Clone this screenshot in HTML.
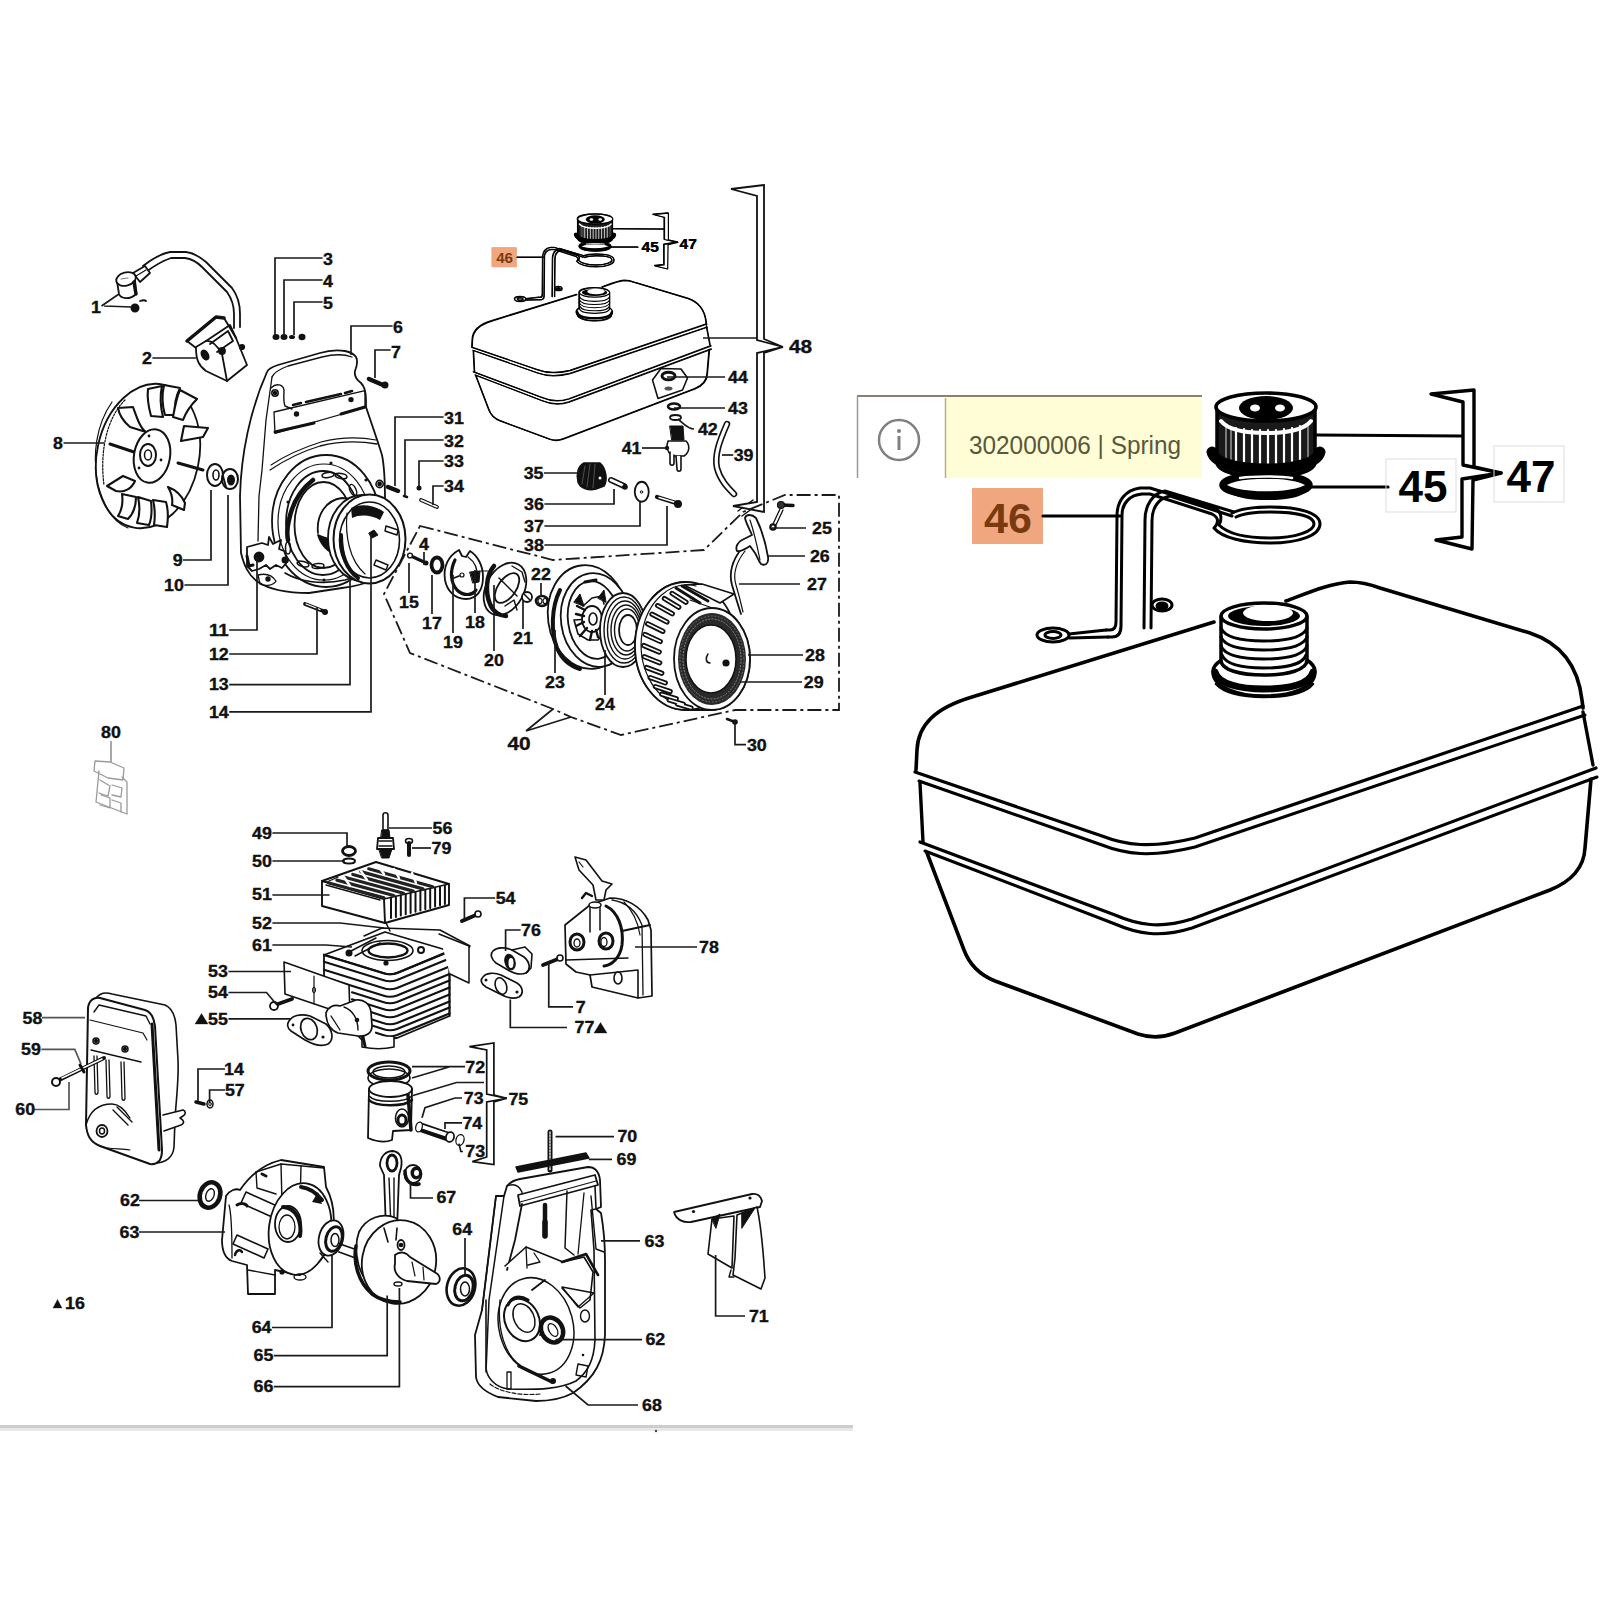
<!DOCTYPE html>
<html><head><meta charset="utf-8"><style>
html,body{margin:0;padding:0;background:#fff;width:1600px;height:1600px;overflow:hidden}
svg{display:block}
text{font-family:"Liberation Sans",sans-serif}
</style></head><body>
<svg width="1600" height="1600" viewBox="0 0 1600 1600">
<rect width="1600" height="1600" fill="#fff"/>
<defs>
<g id="tankL" fill="none" stroke="#000" stroke-linecap="round" stroke-linejoin="round">
  <!-- top surface outline -->
  <path stroke-width="3.6" d="M916,770 L917,750 C918,725 935,708 972,697 L1214,622"/>
  <path stroke-width="3.6" d="M1286,601 C1310,592 1328,584 1350,582 C1362,582 1372,585 1380,588 L1530,633 C1560,643 1578,665 1582,700 L1583,708"/>
  <!-- seam 1 (double) -->
  <path stroke-width="3.2" d="M915,772 L1102,836 C1125,845 1150,849 1195,838 L1583,706"/>
  <path stroke-width="3" d="M919,781 L1102,845 C1125,854 1150,858 1195,847 L1585,715"/>
  <!-- side between seams -->
  <path stroke-width="3.4" d="M920,783 L923,842"/>
  <path stroke-width="3.4" d="M1583,712 L1593,765"/>
  <!-- seam 2 (double) -->
  <path stroke-width="3.2" d="M920,842 L1115,915 C1138,925 1160,929 1192,919 L1596,768"/>
  <path stroke-width="3" d="M925,851 L1115,924 C1138,934 1160,938 1192,928 L1597,777"/>
  <!-- lower body -->
  <path stroke-width="3.6" d="M927,853 L964,950 C970,966 980,975 995,981 L1138,1034 C1150,1038 1162,1038 1175,1033 L1550,890 C1572,881 1584,868 1585,848 L1591,779"/>
  <!-- neck -->
  <g>
    <path stroke-width="3.5" fill="#fff" d="M1213,672 C1213,688 1240,696 1264,696 C1290,696 1315,688 1315,672 C1315,658 1290,652 1264,652 C1240,652 1213,658 1213,672 Z"/>
    <path stroke-width="7" d="M1215,672 C1218,684 1240,689 1264,689 C1290,689 1310,684 1313,672"/>
    <path stroke-width="2.5" d="M1216,684 C1225,694 1245,697 1264,697 C1285,697 1305,694 1313,684"/>
    <path stroke-width="3.5" fill="#fff" d="M1221,617 L1221,660 C1221,670 1240,675 1264,675 C1288,675 1307,670 1307,660 L1307,617"/>
    <path stroke-width="3" d="M1221,628 C1225,638 1245,641 1264,641 C1283,641 1303,638 1307,628"/>
    <path stroke-width="3" d="M1221,637 C1225,647 1245,650 1264,650 C1283,650 1303,647 1307,637"/>
    <path stroke-width="3" d="M1221,646 C1225,656 1245,659 1264,659 C1283,659 1303,656 1307,646"/>
    <path stroke-width="3" d="M1222,655 C1226,665 1245,668 1264,668 C1283,668 1303,665 1306,655"/>
    <ellipse cx="1264" cy="616" rx="43" ry="13" fill="#fff" stroke-width="3.5"/>
    <ellipse cx="1264" cy="616" rx="36" ry="10" fill="#000" stroke="none"/>
    <ellipse cx="1268" cy="613" rx="25" ry="8" fill="#fff" stroke="none"/>
  </g>
  <!-- cap -->
  <g>
    <path stroke-width="3.5" fill="#1a1a1a" d="M1217,410 L1217,462 C1217,472 1240,477 1266,477 C1292,477 1315,472 1315,462 L1315,410"/>
    <g stroke="#fff" stroke-width="2.2">
      <path d="M1236,428 V466 M1244,429 V468 M1252,430 V469 M1260,430 V470 M1268,430 V470 M1276,430 V470 M1284,429 V469 M1292,428 V468 M1300,426 V466"/>
    </g>
    <g stroke="#bbb" stroke-width="1.2">
      <path d="M1226,425 V462 M1308,425 V462 M1231,427 V464"/>
    </g>
    <path stroke-width="4" stroke="#fff" d="M1221,421 C1228,430 1245,433 1266,433 C1287,433 1304,430 1311,421"/>
    <path stroke-width="11" d="M1212,452 C1215,464 1240,469 1266,469 C1292,469 1317,464 1320,452"/>
    <ellipse cx="1266" cy="407" rx="50" ry="14" fill="#fff" stroke-width="3.6"/>
    <ellipse cx="1266" cy="408" rx="27" ry="12" fill="#000" stroke="none"/>
    <ellipse cx="1255" cy="408" rx="5" ry="3.5" fill="#fff" stroke="none"/>
    <ellipse cx="1280" cy="408" rx="5" ry="3.5" fill="#fff" stroke="none"/>
    <path d="M1230,476 C1245,482 1288,482 1302,476" stroke-width="2" stroke="#fff"/>
  </g>
  <!-- gasket 45 -->
  <ellipse cx="1266" cy="485" rx="43" ry="10" stroke-width="7.5"/>
  <path stroke-width="2.5" stroke="#fff" d="M1240,478 C1255,476 1280,476 1292,478"/>
  <path stroke-width="4" d="M1232,492 C1245,500 1290,500 1302,492"/>
  <!-- spring 46 (wire double line) -->
  <g stroke-width="3">
    <path d="M1108,637 L1112,637 C1118,637 1121,633 1121,626 L1122,515 C1122,503 1130,495 1142,494 L1150,494 L1212,514 C1220,518 1218,524 1214,528 C1222,538 1245,543 1270,543 C1300,543 1320,535 1320,524 C1320,513 1300,507 1270,507 C1250,507 1238,510 1232,513"/>
    <path d="M1106,630 L1110,630 C1114,630 1116,627 1116,622 L1117,516 C1117,500 1126,490 1140,488 L1150,488 L1215,508 C1222,512 1222,520 1219,525 C1228,534 1248,538 1270,538 C1296,538 1314,531 1314,524 C1314,516 1296,512 1270,512 C1252,512 1242,514 1236,517"/>
    <path d="M1144,628 L1145,520 C1145,505 1153,493 1165,491 L1234,512"/>
    <path d="M1151,628 L1152,521 C1152,507 1159,498 1170,496 L1232,516"/>
    <ellipse cx="1053" cy="635" rx="16" ry="7"/>
    <ellipse cx="1053" cy="635" rx="8" ry="3.5"/>
    <path d="M1069,634 L1106,630 M1069,638 L1108,637"/>
    <ellipse cx="1162" cy="605" rx="10" ry="6"/>
    <ellipse cx="1162" cy="606" rx="5" ry="3" fill="#000"/>
  </g>
  <!-- bracket 47 -->
  <g stroke-width="3.4" fill="#fff">
    <path d="M1431,394 L1474,390 L1474,467 L1501,473 L1463,465 L1463,402 Z"/>
    <path d="M1501,473 L1473,480 L1472,549 L1436,540 L1462,537 L1462,479 Z"/>
  </g>
  <path stroke-width="3.2" d="M1316,435 L1462,436"/>
  <path stroke-width="3.2" d="M1310,487 L1388,487"/>
  <text x="1423" y="502" font-size="44" font-weight="bold" fill="#000" stroke="none" text-anchor="middle">45</text>
  <text x="1531" y="492" font-size="44" font-weight="bold" fill="#000" stroke="none" text-anchor="middle">47</text>
  <!-- 46 highlight -->
  <rect x="972" y="488" width="71" height="56" fill="#f0a77f" stroke="none"/>
  <text x="1008" y="533" font-size="43" font-weight="bold" fill="#7a3a10" stroke="none" text-anchor="middle">46</text>
  <path stroke-width="3.2" d="M1043,516 L1120,516"/>
</g>
</defs>

<clipPath id="clipL"><rect x="857" y="388" width="743" height="700"/></clipPath>
<g clip-path="url(#clipL)"><use href="#tankL"/></g>
<!-- light gray label boxes in large view -->
<rect x="1386" y="459" width="70" height="53" fill="none" stroke="#ddd" stroke-width="1"/>
<rect x="1494" y="446" width="70" height="56" fill="none" stroke="#ddd" stroke-width="1"/>
<!-- tooltip -->
<rect x="857" y="396" width="88" height="82" fill="#fff"/>
<rect x="945" y="396" width="257" height="82" fill="#fffdd5" rx="2"/>
<line x1="857" y1="396" x2="1202" y2="396" stroke="#8a8070" stroke-width="2"/>
<line x1="857.5" y1="396" x2="857.5" y2="478" stroke="#999" stroke-width="1.5"/>
<line x1="945.5" y1="398" x2="945.5" y2="478" stroke="#b3b088" stroke-width="1.5"/>
<circle cx="899" cy="440" r="20" fill="none" stroke="#808080" stroke-width="2.5"/>
<circle cx="899" cy="431" r="2" fill="#808080"/>
<rect x="897.5" y="436" width="3" height="14" fill="#808080"/>
<text x="969" y="454" font-size="25" fill="#58583a" textLength="212" lengthAdjust="spacingAndGlyphs">302000006 | Spring</text>

<g transform="translate(471.4,347) scale(0.3515) translate(-915,-772)"><use href="#tankL"/></g>
<g transform="translate(471.9,347.4) scale(0.3515) translate(-915,-772)"><use href="#tankL"/></g>
<g fill="none" stroke="#111" stroke-linejoin="round" stroke-linecap="round">
  <path d="M661,368.5 L681,369 L687.5,378 L682.5,390 L658,398.5 L652.5,380 Z" stroke-width="1.6"/>
  <ellipse cx="668.5" cy="376" rx="6.5" ry="3.8" stroke-width="3"/>
  <ellipse cx="668.5" cy="388.5" rx="4" ry="2" fill="#555" stroke="none"/>
</g>

<g fill="none" stroke="#111" stroke-width="1.8" stroke-linecap="round" stroke-linejoin="round">
  <!-- wire -->
  <path d="M143,266 C152,259 160,254 170,252 L186,252 C194,253 200,257 206,262 L232,288 C238,296 240,304 240,314 L240,327"/>
  <path d="M146,272 C154,266 162,261 171,258 L185,258 C192,259 197,262 202,267 L227,292 C232,299 234,306 234,314 L234,328"/>
  <!-- plug cap -->
  <path d="M133,273 L145,266 L150,273 L140,282 Z" fill="#fff" stroke-width="1.8"/>
  <path d="M136,276 L146,270" stroke-width="1.2"/>
  <path d="M117,281 L119,294 C121,299 130,300 136,294 L135,279" fill="#fff"/>
  <ellipse cx="126" cy="279" rx="10" ry="6.5" transform="rotate(-15 126 279)" fill="#fff"/>
  <path d="M134,282 L136,294" stroke-width="3.5"/>
  <path d="M121,279 L128,278" stroke-width="1.2" stroke="#777"/>
  <circle cx="135" cy="308" r="3.6" fill="#111"/>
  <path d="M140,301 C143,300 145,300 146,301"/>
  <!-- coil 2 -->
  <path d="M187,341 L216,317 L224,318 L236,338 L247,365 L227,381 L206,371 C199,366 196,360 196,348 Z" fill="#fff"/>
  <path d="M187,341 L216,317 L224,318" stroke-width="3.5"/>
  <path d="M196,347 L206,341 C212,340 218,347 222,354 L227,381"/>
  <path d="M206,341 L230,325 L236,338"/>
  <path d="M210,344 L228,331 L233,341 L217,352"/>
  <ellipse cx="205" cy="355" rx="3" ry="5" fill="#111" transform="rotate(-30 205 355)"/>
  <circle cx="222" cy="351" r="3" fill="#111"/>
  <circle cx="242" cy="347" r="2.2" fill="#111"/>
  <!-- nuts 3-5 -->
  <g fill="#111" stroke="none">
    <ellipse cx="276" cy="337" rx="3.5" ry="3"/><ellipse cx="284" cy="337" rx="3.5" ry="3"/>
    <ellipse cx="292" cy="337" rx="3" ry="2"/><ellipse cx="302" cy="337" rx="3.5" ry="3.2"/>
  </g>
  <!-- flywheel -->
  <ellipse cx="148" cy="456" rx="51" ry="73" transform="rotate(12 148 456)" fill="#fff"/>
  <path d="M112,402 C96,425 92,455 98,485 C104,508 115,523 128,528" stroke-width="1.2"/>
  <path d="M125,400 C105,420 100,455 104,485" stroke-width="1.2" stroke-dasharray="2,1.5"/>
  <!-- blades -->
  <g fill="#fff" stroke-width="2.1">
    <path d="M148,389 L162,386 C160,395 160,405 163,417 L151,416 C148,405 147,397 148,389 Z"/>
    <path d="M164,385 L180,388 C176,396 174,405 175,415 L165,415 C162,405 162,394 164,385 Z"/>
    <path d="M180,390 L197,399 C191,405 186,412 183,420 L173,417 C175,406 177,396 180,390 Z"/>
    <path d="M184,426 L208,428 L203,437 L181,441 Z"/>
    <path d="M118,408 L133,407 C137,418 140,428 146,432 L130,427 C123,421 119,414 118,408 Z"/>
    <path d="M107,486 L123,476 L135,481 C132,488 125,493 116,491 Z"/>
    <path d="M168,487 C176,490 182,496 185,503 L184,510 L172,505 C173,499 171,492 168,487 Z"/>
    <path d="M153,500 L166,502 C169,512 168,520 167,527 L154,525 C155,518 155,508 153,500 Z"/>
    <path d="M138,497 L151,501 C152,510 152,518 149,525 L137,523 C140,515 140,506 138,497 Z"/>
    <path d="M122,494 L136,497 C136,506 133,514 128,519 L118,516 C122,510 123,501 122,494 Z"/>
  </g>
  <path d="M110,444 L137,453" stroke-width="3"/>
  <path d="M178,463 L203,470" stroke-width="3"/>
  <ellipse cx="152" cy="456" rx="18" ry="27" transform="rotate(10 152 456)" fill="#fff" stroke-width="2"/>
  <ellipse cx="148" cy="455" rx="8" ry="11" fill="#fff" stroke-width="2"/>
  <ellipse cx="148" cy="455" rx="3.5" ry="5" fill="#fff" stroke-width="1.5"/>
  <g fill="#111" stroke="none"><circle cx="149" cy="436" r="1.4"/><circle cx="161" cy="460" r="1.4"/><circle cx="139" cy="468" r="1.4"/></g>
  <!-- washer 9, nut 10 -->
  <ellipse cx="215" cy="475" rx="8" ry="11" fill="#fff" stroke-width="2"/>
  <ellipse cx="216" cy="475" rx="3" ry="5" stroke-width="1.6"/>
  <ellipse cx="230" cy="479" rx="8" ry="10" fill="#fff" stroke-width="2"/>
  <ellipse cx="231" cy="480" rx="4" ry="5.5" fill="#111" stroke="none"/>
  <path d="M223,476 L226,487"/>
</g>

<g fill="none" stroke="#111" stroke-width="1.8" stroke-linecap="round" stroke-linejoin="round">
  <!-- housing outer -->
  <path fill="#fff" d="M267,372 C268,369 272,367 278,365 L320,353 C330,350 338,350 345,351 C350,352 354,354 356,357 C358,361 357,366 355,371 C354,376 357,380 361,383 C364,386 366,391 366,400 L366,407 C372,425 378,442 382,455 C385,470 385,490 385,500 L386,560 C384,575 370,585 342,588 L309,593 C290,593 270,590 258,582 C248,575 244,565 241,553 L240,496 C241,455 250,410 267,372 Z"/>
  <!-- top rim inner -->
  <path d="M272,377 C274,372 280,369 288,366 L322,357 C334,354 344,354 352,357" stroke-width="1.3"/>
  <path d="M272,377 L266,420 L262,470 L259,496 L258,541" stroke-width="1.3"/>
  <!-- ear hole -->
  <circle cx="275" cy="393" r="3.2" stroke-width="1.5"/><circle cx="275" cy="393" r="1.4" fill="#111"/>
  <path d="M271,388 C276,383 283,384 284,390 C284,396 283,401 285,406 L292,409" stroke-width="1.4"/>
  <!-- strip -->
  <path d="M274,412 L365,390.6 L365,407.5 L275,433.4 Z" stroke-width="1.3"/>
  <path d="M275,432 L314,423" stroke-width="3"/>
  <path d="M341,414 L365,407" stroke-width="3"/>
  <path d="M293,405 L301,403 M306,402 L341,394 M345,393 L352,391" stroke-width="2.6"/>
  <circle cx="296.5" cy="414" r="1.8" fill="#111"/><circle cx="351" cy="399.6" r="1.8" fill="#111"/>
  <!-- curved panel line -->
  <path d="M270,470 C285,460 300,452 320,446 C340,441 360,441 377,444" stroke-width="1.3"/>
  <path d="M271,465 C286,455 302,448 321,442 C341,437 360,437 376,440" stroke-width="1.1"/>
  <!-- flange rings -->
  <ellipse cx="326" cy="521" rx="54" ry="66" stroke-width="1.8"/>
  <ellipse cx="324" cy="522" rx="46" ry="58" stroke-width="1.2"/>
  <ellipse cx="323" cy="523" rx="37" ry="52" stroke-width="1.8"/>
  <ellipse cx="323.5" cy="525" rx="29" ry="43" stroke-width="1.8"/>
  <path d="M313,480 C300,490 292,505 289,520 C287,528 287,535 288,540" stroke-width="4.5"/>
  <!-- slots -->
  <g stroke-width="1.5">
    <ellipse cx="328" cy="475" rx="6" ry="2.5" transform="rotate(-8 328 475)"/>
    <ellipse cx="341" cy="476" rx="6" ry="2.5" transform="rotate(10 341 476)"/>
    <ellipse cx="353" cy="490" rx="3" ry="6" transform="rotate(-25 353 490)"/>
    <ellipse cx="303" cy="564" rx="6" ry="2.5" transform="rotate(15 303 564)"/>
    <ellipse cx="318" cy="566" rx="6" ry="2.5" transform="rotate(-5 318 566)"/>
    <ellipse cx="288" cy="548" rx="2.5" ry="6"/>
  </g>
  <g fill="#111" stroke="none"><circle cx="331" cy="463" r="1.6"/><circle cx="288" cy="502" r="1.6"/><circle cx="366" cy="480" r="1.6"/><circle cx="324" cy="580" r="1.6"/></g>
  <!-- hub -->
  <path d="M318,533 C316,515 326,500 342,498 L360,500" stroke-width="1.8"/>
  <path d="M318,535 C322,548 332,556 345,555 L340,540 C332,540 324,538 318,535 Z" fill="#111"/>
  <!-- pawl plate 11 -->
  <path fill="#fff" stroke-width="1.8" d="M247,547 L262,543 L268,545 L269,537 L273,544 L281,540 L279,549 L284,551 L288,561 L282,568 L276,565 L270,569 L266,565 L259,569 L252,571 L247,566 Z"/>
  <circle cx="259" cy="557" r="4.5" fill="#111"/>
  <path d="M247,556 L249,566 L253,565" stroke-width="3"/>
  <circle cx="285" cy="560" r="2.6" fill="#111"/>
  <path d="M258,575 C266,573 272,575 276,581 C274,585 266,587 260,584 Z" stroke-width="1.3"/>
  <circle cx="268" cy="579" r="1.8" fill="#111"/>
  <path d="M285,573 C300,582 322,585 345,580 C360,576 368,572 372,568" stroke-width="1.6"/>
  <!-- rotor ring 13 / 14 -->
  <ellipse cx="362" cy="538" rx="34" ry="43" fill="#fff" stroke-width="1.8"/>
  <ellipse cx="369.5" cy="539" rx="36" ry="44.5" fill="#fff" stroke-width="2"/>
  <ellipse cx="369.5" cy="540" rx="30" ry="38" fill="#fff" stroke-width="1.6"/>
  <path d="M351,508 C360,503 375,505 384,512 L380,520 C372,515 360,514 352,518 Z" fill="#111" stroke="none"/>
  <path d="M341,535 C341,560 350,572 358,578" stroke-width="4"/>
  <path d="M347,513 C345,535 349,560 365,574" stroke-width="1.2"/>
  <path d="M386,526 L398,530 L397,535 L385,531 Z M376,560 L388,565 L386,570 L374,565 Z" fill="#fff" stroke-width="1.4"/>
  <path d="M369,533 L374,530 L378,535 L372,538 Z" fill="#111" stroke-width="1"/>
  <!-- bolt 7 -->
  <path d="M369,379 L383,385" stroke-width="4.5"/>
  <circle cx="385" cy="385" r="3.5" fill="#111" stroke="none"/>
  <!-- screws 31-34 -->
  <circle cx="379.6" cy="484" r="3.6" stroke-width="1.6"/><circle cx="379.6" cy="484" r="1.5" fill="#111"/>
  <path d="M388,487 L398,491" stroke-width="4.5"/>
  <path d="M404,496 L407,497" stroke-width="2.5"/>
  <circle cx="419" cy="488" r="2.5" fill="#111" stroke="none"/>
  <path d="M421,500 L437,507" stroke-width="3.8"/><path d="M421,500 L437,507" stroke="#fff" stroke-width="1.4"/>
  <!-- bolt 12 -->
  <path d="M305,604 L323,611" stroke-width="3.8"/><path d="M306,604 L320,609.5" stroke="#fff" stroke-width="1.2"/>
  <circle cx="325" cy="612" r="3" fill="#111" stroke="none"/>
</g>

<g fill="none" stroke="#111" stroke-width="1.8" stroke-linecap="round" stroke-linejoin="round">
  <!-- screw 15 -->
  <path d="M411,556 L424,562" stroke-width="3.2"/><circle cx="410" cy="555.5" r="2.4" fill="#fff" stroke-width="1.4"/>
  <circle cx="426" cy="563" r="2.5" fill="#111" stroke="none"/>
  <!-- washer 17 -->
  <ellipse cx="437" cy="565" rx="5.5" ry="7.5" stroke-width="3.8"/>
  <!-- plate 19 -->
  <path d="M459,550 C448,556 443,567 445,580 C447,591 455,599 466,599 C477,599 483,590 483,577 C483,566 478,556 470,551 L466,557 L462,556 Z" fill="#fff" stroke-width="1.8"/>
  <path d="M455,560 C450,570 450,582 457,590 C463,596 472,596 476,590" stroke-width="3.2"/>
  <path d="M468,557 C475,562 478,570 477,578" stroke-width="1.3"/>
  <circle cx="462" cy="575" r="2" stroke-width="1.2"/><path d="M454,578 L459,576" stroke-width="1.8"/>
  <!-- pawl 18 -->
  <path d="M470,572 L480,571 L479,582 L473,583 Z" fill="#111" stroke-width="1"/>
  <path d="M480,571 L488,571 C492,572 492,574 490,575" stroke-width="1.1"/>
  <!-- guide 20 -->
  <ellipse cx="505" cy="589" rx="19" ry="28" transform="rotate(28 505 589)" fill="#fff" stroke-width="1.8"/>
  <path d="M494,566 C486,575 485,592 490,604 C493,612 500,616 506,616" stroke-width="4.5"/>
  <ellipse cx="507" cy="588" rx="9" ry="17" transform="rotate(35 507 588)" fill="#fff" stroke-width="1.8"/>
  <path d="M499,578 L517,596" stroke-width="1.5"/>
  <path d="M505,606 L514,600 L517,610" stroke-width="1.4"/>
  <path d="M512,566 L522,572 L525,582" stroke-width="1.4"/>
  <!-- nut 21, spacer 22 -->
  <circle cx="527" cy="597" r="5" fill="#fff" stroke-width="1.8"/><path d="M524,594 L530,600" stroke-width="1.5"/>
  <ellipse cx="542" cy="601" rx="6" ry="5" fill="#fff" stroke-width="2.6"/><ellipse cx="540" cy="601" rx="2" ry="2.5" stroke-width="1.2"/><ellipse cx="545" cy="601" rx="2" ry="2.5" stroke-width="1.2"/>
  <!-- pulley 23 -->
  <ellipse cx="588" cy="617" rx="40" ry="52" transform="rotate(-8 588 617)" fill="#fff" stroke-width="1.8"/>
  <path d="M560,590 C551,608 551,632 557,648 C562,660 570,666 580,669" stroke-width="4"/>
  <ellipse cx="596" cy="620" rx="35" ry="47" transform="rotate(-8 596 620)" fill="#fff" stroke-width="1.8"/>
  <ellipse cx="594" cy="620" rx="26" ry="39" transform="rotate(-8 594 620)" fill="#fff" stroke-width="1.8"/>
  <path d="M585,582 L596,580" stroke-width="3"/>
  <!-- ratchet hub -->
  <path d="M576,600 L583,606 L592,598 L602,596 L604,604 M606,618 L604,632 L598,640 L588,640 L578,634 L574,620 Z" stroke-width="1.6"/>
  <path d="M574,602 L580,594 L584,606 Z M598,598 L604,590 L606,602 Z" fill="#111" stroke-width="1"/>
  <ellipse cx="592" cy="619" rx="10" ry="13" fill="#fff" stroke-width="1.8"/>
  <ellipse cx="593" cy="619" rx="4" ry="6" fill="#fff" stroke-width="1.6"/>
  <path d="M576,614 L584,616 M576,626 L584,622 M580,636 L587,628 M590,640 L592,631 M598,637 L596,630 M577,606 L585,610" stroke-width="2.4"/>
  <!-- spring 24 -->
  <g stroke-width="1.4">
    <ellipse cx="623" cy="630" rx="23" ry="37" fill="#fff" stroke-width="1.8"/>
    <ellipse cx="624" cy="630" rx="20" ry="33"/>
    <ellipse cx="625" cy="630" rx="17.5" ry="29"/>
    <ellipse cx="626" cy="630" rx="15" ry="25"/>
    <ellipse cx="627" cy="630" rx="12.5" ry="21"/>
    <ellipse cx="628" cy="630" rx="9" ry="15" fill="#fff" stroke-width="1.8"/>
  </g>
  <!-- starter housing 28/29 -->
  <path fill="#fff" stroke-width="1.8" d="M686,582 A51,64 0 0 0 686,710 L712,710 A38,51 0 0 0 712,608 Z"/>
  <ellipse cx="686" cy="646" rx="51" ry="64" fill="#fff" stroke-width="1.8"/>
  <path d="M684,585 L702,584 L734,594 L720,603 Z" fill="#fff" stroke-width="1.5"/>
  <path d="M690,600 L718,610" stroke-width="1.2"/>
  <path d="M696,586 A45,59 0 0 0 678,704" stroke-width="1.2"/>
  <path d="M672.1,593.4 L686.0,602.2 M664.4,598.6 L678.8,607.2 M657.6,605.6 L672.3,613.8 M651.9,614.1 L667.0,622.0 M647.6,623.8 L662.9,631.3 M644.9,634.4 L660.3,641.5 M643.7,645.5 L659.2,652.1 M644.3,656.7 L659.7,662.8 M646.5,667.5 L661.8,673.2 M650.2,677.6 L665.3,682.9 M655.4,686.6 L670.2,691.5 M661.8,694.2 L676.3,698.7 M669.2,700.0 L683.3,704.3 M677.4,704.0 L691.0,708.1" stroke-width="5.2"/>
  <path d="M672.1,593.4 L686.0,602.2 M664.4,598.6 L678.8,607.2 M657.6,605.6 L672.3,613.8 M651.9,614.1 L667.0,622.0 M647.6,623.8 L662.9,631.3 M644.9,634.4 L660.3,641.5 M643.7,645.5 L659.2,652.1 M644.3,656.7 L659.7,662.8 M646.5,667.5 L661.8,673.2 M650.2,677.6 L665.3,682.9 M655.4,686.6 L670.2,691.5 M661.8,694.2 L676.3,698.7 M669.2,700.0 L683.3,704.3 M677.4,704.0 L691.0,708.1" stroke="#fff" stroke-width="1.6"/>
  <path d="M676,588 L700,603 M682,586 L708,601" stroke-width="3"/>
  <ellipse cx="712" cy="659" rx="38" ry="51" fill="#fff" stroke-width="1.8"/>
  <ellipse cx="712" cy="659" rx="34" ry="46" fill="#2a2a2a" stroke="none"/>
  <ellipse cx="712" cy="659" rx="29" ry="40" stroke="#888" stroke-width="1" stroke-dasharray="1.2,2"/>
  <ellipse cx="712" cy="659" rx="32" ry="43" stroke="#777" stroke-width="0.9" stroke-dasharray="1,2.4"/>
  <ellipse cx="711" cy="659" rx="25" ry="34" fill="#fff" stroke-width="1.5"/>
  <path d="M708,654 C705,658 706,663 710,663" stroke-width="1.5"/>
  <circle cx="726" cy="663" r="3.6" fill="#111" stroke="none"/>
  <!-- rope 27 / handle 26 / clip 25 -->
  <path d="M742,548 C734,558 728,570 732,585 C735,595 738,605 741,614" stroke-width="1.8"/>
  <path d="M745,551 C738,560 732,572 736,585 C739,595 741,603 743,612" stroke-width="1.2"/>
  <path fill="#fff" stroke-width="1.8" d="M745,518 C746,514 752,514 756,518 C762,530 766,545 768,557 C769,564 765,566 761,564 C758,560 757,556 755,553 L750,546 C744,550 740,552 737,551 C735,547 738,542 742,540 L752,535 C749,528 746,523 745,518 Z"/>
  <path d="M750,520 C754,532 757,545 760,560" stroke-width="1.2"/>
  <path d="M738,511 L753,500 M742,516 L757,505" stroke-width="1.4"/>
  <path d="M781,505 L793,505.5" stroke-width="3.5"/><circle cx="781" cy="505" r="3.5" fill="#333" stroke="#111" stroke-width="1.2"/>
  <path d="M780,509 L773,524 M783,510 L776,525" stroke-width="1.3"/>
  <circle cx="773" cy="527" r="3.8" fill="#111" stroke="none"/><circle cx="773" cy="527" r="1.4" fill="#fff" stroke="none"/>
  <!-- 30 screw -->
  <path d="M727,719 L735,722" stroke-width="2.5"/><circle cx="735" cy="722" r="2.8" fill="#111" stroke="none"/>
  <!-- 35 knob -->
  <path d="M584,463 C578,466 576,474 578,482 C580,488 588,491 596,489 L604,486 C608,480 606,468 600,463 Z" fill="#111" stroke-width="1.5"/>
  <path d="M585,466 L582,484 M590,464 L587,487 M595,464 L593,488" stroke="#555" stroke-width="0.9"/>
  <circle cx="600" cy="478" r="1.5" fill="#fff" stroke="none"/>
  <!-- 36 pin -->
  <path d="M611,480 L624,486" stroke-width="6"/><path d="M611,480 L622,485" stroke="#fff" stroke-width="3"/>
  <circle cx="625" cy="487" r="2.8" fill="#111" stroke="none"/>
  <!-- 37 washer -->
  <ellipse cx="641.75" cy="491.75" rx="7" ry="10" fill="#fff" stroke-width="1.8"/><circle cx="641.5" cy="492" r="1.2" stroke-width="1"/>
  <!-- 38 bolt -->
  <path d="M657,497 L676,503" stroke-width="4.2"/><path d="M659,497.5 L674,502" stroke="#fff" stroke-width="1.4"/>
  <circle cx="678" cy="504" r="4" fill="#111" stroke="none"/>
  <!-- 41 tap -->
  <path d="M670,426 L683,426 L684,440 L672,440 Z" fill="#111" stroke-width="1"/>
  <path d="M668,441 L686,441 C690,445 690,452 684,456 L672,456 C667,452 666,446 668,441 Z" fill="#fff" stroke-width="1.6"/>
  <path d="M670,452 L670,463 C670,466 674,466 674,463 L674,455" fill="#fff" stroke-width="1.6"/>
  <path d="M676,456 L677,469 C677,472 681,472 681,469 L681,456" fill="#fff" stroke-width="1.6"/>
  <circle cx="667" cy="448" r="2.2" fill="#111" stroke="none"/>
  <ellipse cx="675.5" cy="417.5" rx="5.5" ry="2.5" stroke-width="1.8"/>
  <!-- 39 hose -->
  <path d="M727,424 C720,440 714,455 717,468 C720,480 728,488 734,494" stroke-width="6.5"/>
  <path d="M727,424 C720,440 714,455 717,468 C720,480 728,488 734,494" stroke="#fff" stroke-width="3.2"/>
  <!-- 43 ring -->
  <ellipse cx="674" cy="406.5" rx="6" ry="3" stroke-width="2.6"/>
</g>

<g fill="none" stroke="#111" stroke-width="1.7" stroke-linecap="round" stroke-linejoin="round">
  <!-- spark plug 56 -->
  <path d="M383,815 C383,812 388,812 388,815 L388,830 L383,830 Z" fill="#fff" stroke-width="1.6"/>
  <path d="M382,830 L389,830 L390,838 L381,838 Z" fill="#111" stroke-width="1"/>
  <path d="M378,838 L393,838 L394,849 L377,849 Z" fill="#fff" stroke-width="1.8"/>
  <path d="M379,841 L392,841 M379,846 L392,846" stroke-width="1.4"/>
  <path d="M379,849 L392,849 L389,858 L382,858 Z" fill="#111" stroke-width="1"/>
  <!-- 79 screw -->
  <ellipse cx="409" cy="841" rx="3.5" ry="2.5" stroke-width="1.5"/>
  <path d="M409,843 L409,855" stroke-width="4"/>
  <!-- 49 nut / 50 washer -->
  <ellipse cx="349" cy="851" rx="6.5" ry="4.5" stroke-width="2.8"/>
  <ellipse cx="349" cy="861" rx="6" ry="2.6" stroke-width="2"/>
  <!-- head 51 -->
  <path fill="#fff" stroke-width="1.9" d="M322,881 L376,862 L449,884 L449,905 L385,923 L322,906 Z"/>
  <path d="M385,923 L384,899 L322,881" stroke-width="1.9"/>
  <path d="M384,899 L449,884" stroke-width="1.6"/>
  <path d="M326,885 L380,900" stroke-width="1.3"/>
  <path d="M391.0,897.5 L391.0,918.1 M395.9,896.4 L395.9,916.9 M400.8,895.4 L400.8,915.6 M405.7,894.3 L405.7,914.3 M410.6,893.3 L410.6,913.0 M415.5,892.2 L415.5,911.7 M420.4,891.1 L420.4,910.5 M425.3,890.1 L425.3,909.2 M430.2,889.0 L430.2,907.9 M435.1,888.0 L435.1,906.6 M440.0,886.9 L440.0,905.3 M444.9,885.9 L444.9,904.0" stroke-width="2"/>
  <path d="M328.9,883.0 L384.0,897.8 M336.9,880.1 L393.7,895.5 M344.8,877.3 L403.5,893.3 M352.8,874.5 L413.2,891.1 M360.8,871.6 L422.9,888.9 M368.7,868.8 L432.7,886.7" stroke-width="3.2" stroke="#222"/>
  <path d="M344,877 L350,886 M361,871 L367,880 M378,866 L384,874 M394,869 L399,878 M412,873 L416,883" stroke="#fff" stroke-width="2.4"/>
  
  <path d="M327,882 L338,877" stroke-width="1.3"/>
  <!-- gasket 52 -->
  <path d="M364,936 L382,928 L440,930 L470,946 L452,973" stroke-width="1.5"/>
  <path d="M386,923 L390,931" stroke-width="1.5"/>
  <!-- cylinder 61 -->
  <path fill="#fff" stroke-width="1.8" d="M324,955 L385,932 L449.5,951 L449.5,1016 L397,1038 L362,1040 L324,1000 Z"/>
  <path d="M324,955 L383,973 Q390,975.5 397,973 L449.5,951" stroke-width="2"/>
  <path d="M324,954.7 L383,973.0 Q390,975.5 397,973.0 L449.5,951.5" stroke-width="2.2"/>
  <path d="M324,961.7 L383,980.0 Q390,982.5 397,980.0 L449.5,958.5" stroke-width="2.2"/>
  <path d="M324,969.7 L383,988.0 Q390,990.5 397,988.0 L449.5,966.5" stroke-width="2.2"/>
  <path d="M330,979.0 L383,995.5 Q390,998.0 397,995.5 L449.5,974.0" stroke-width="2.2"/>
  <path d="M352,992.3 L383,1002.0 Q390,1004.5 397,1002.0 L449.5,980.5" stroke-width="2.2"/>
  <path d="M352,999.3 L383,1009.0 Q390,1011.5 397,1009.0 L449.5,987.5" stroke-width="2.2"/>
  <path d="M370,1011.8 L383,1016.0 Q390,1018.5 397,1016.0 L449.5,994.5" stroke-width="2.2"/>
  <path d="M372,1019.5 L383,1023.0 Q390,1025.5 397,1023.0 L449.5,1001.5" stroke-width="2.2"/>
  <path d="M372,1025.5 L383,1029.0 Q390,1031.5 397,1029.0 L449.5,1007.5" stroke-width="2.2"/>
  <path d="M376,1032.7 L383,1035.0 Q390,1037.5 397,1035.0 L449.5,1013.5" stroke-width="2.2"/>
  <path d="M449.5,951 L449.5,1016" stroke-width="1.8"/>
  <path d="M362,1036 L362,1047 C372,1049 385,1049 394,1047 L394,1037" fill="#fff" stroke-width="1.6"/>
  <path d="M363,1037 L365,1046" stroke-width="3"/>
  <ellipse cx="387.5" cy="950.5" rx="25.5" ry="10" fill="#fff" stroke-width="1.6"/>
  <ellipse cx="388" cy="950.5" rx="19.5" ry="7" fill="#fff" stroke-width="2.4"/>
  <path d="M351,951 L376,938 M355,956 L380,943" stroke-width="1.5"/>
  <circle cx="349" cy="953" r="3.5" fill="#111" stroke="none"/><circle cx="421" cy="950" r="3" stroke-width="2"/><circle cx="386" cy="963" r="2.6" fill="#111" stroke="none"/>
  <!-- deflector 53 -->
  <path fill="#fff" stroke-width="1.6" d="M284,962 L349,985 L350,1016 L285,994 Z"/>
  <path d="M314,976 L314,1004" stroke-width="1.2"/><ellipse cx="314" cy="990" rx="1.5" ry="3" stroke-width="1"/>
  <path fill="#fff" stroke-width="1.5" d="M439,934 L469,946 L469,983 L450,974"/>
  <!-- exhaust boss -->
  <path fill="#fff" stroke-width="1.7" d="M326,1013 C328,1007 334,1004 340,1006 L356,1000 C364,999 370,1004 371,1012 L372,1026 C372,1033 366,1037 358,1036 L338,1033 C330,1030 326,1022 326,1013 Z"/>
  <path d="M344,1007 C352,1010 358,1018 358,1030" stroke-width="1.4"/>
  <circle cx="357" cy="1020" r="2.3" fill="#111" stroke="none"/>
  <path d="M331,1016 L340,1030" stroke-width="1.3"/>
  <!-- gasket 55 -->
  <path fill="#fff" stroke-width="1.7" d="M289,1021 C292,1016 300,1013 310,1016 L326,1024 C333,1030 334,1040 328,1044 C322,1047 314,1045 305,1040 L291,1031 C287,1028 287,1024 289,1021 Z"/>
  <ellipse cx="309" cy="1029" rx="8" ry="11" transform="rotate(-20 309 1029)" stroke-width="1.7"/>
  <circle cx="293" cy="1025" r="1.4" fill="#111" stroke="none"/><circle cx="323" cy="1037" r="1.6" fill="#111" stroke="none"/>
  <!-- bolt 54 left -->
  <circle cx="274" cy="1006" r="4" fill="#fff" stroke-width="1.8"/>
  <path d="M278,1004 L292,999" stroke-width="3.8"/>
  <!-- bolt 54 right -->
  <path d="M462,921 L476,915" stroke-width="4"/><circle cx="478" cy="914" r="3" fill="#fff" stroke-width="1.6"/>
  <!-- gaskets 76 / 77 -->
  <path fill="#fff" stroke-width="1.7" d="M493,951 C497,947 505,947 512,950 L524,957 C530,962 531,970 526,973 C521,975 515,974 508,970 L496,963 C491,959 490,954 493,951 Z"/>
  <path d="M512,950 L525,947 L532,954 L531,968 L526,973" stroke-width="1.6"/>
  <ellipse cx="510" cy="962" rx="5" ry="8" transform="rotate(-15 510 962)" fill="#111" stroke-width="1"/>
  <ellipse cx="511" cy="963" rx="2.5" ry="5" fill="#fff" stroke="none"/>
  <path fill="#fff" stroke-width="1.7" d="M483,977 C486,973 494,972 501,975 L517,983 C523,987 524,994 519,997 C514,999 507,998 500,994 L486,987 C481,984 480,980 483,977 Z"/>
  <ellipse cx="501" cy="986" rx="5.5" ry="8.5" transform="rotate(-20 501 986)" stroke-width="1.6"/>
  <circle cx="486" cy="980" r="1.5" fill="#111" stroke="none"/><circle cx="517" cy="992" r="1.6" fill="#111" stroke="none"/>
  <!-- bolt 7 carb -->
  <path d="M543,965 L558,959" stroke-width="3.8"/><circle cx="560" cy="958" r="3" fill="#fff" stroke-width="1.6"/>
  <!-- carburetor 78 -->
  <path fill="#fff" stroke-width="1.7" d="M610,898 C625,898 640,905 648,920 L651,930 L652,996 L638,998 L592,987 L590,975 L576,972 L566,964 L565,925 L590,905 Z"/>
  <path d="M612,900 C625,902 636,910 642,925 L643,995" stroke-width="1.3"/>
  <path d="M624,902 C632,910 638,922 640,935" stroke-width="1.2"/>
  <path d="M606,906 C618,912 624,928 622,945 C620,958 612,965 604,966" stroke-width="3"/>
  <path d="M622,931 L650,925" stroke-width="1.8"/>
  <path d="M590,975 L638,970 L638,998" stroke-width="1.6"/>
  <ellipse cx="618" cy="978" rx="4" ry="6" stroke-width="1.6"/>
  <path d="M566,960 L628,958" stroke-width="1.4"/>
  <ellipse cx="577" cy="942" rx="7" ry="8" fill="#fff" stroke-width="3"/>
  <ellipse cx="577" cy="943" rx="3" ry="4" fill="#fff" stroke-width="1.3"/>
  <ellipse cx="606" cy="941" rx="7" ry="8" fill="#fff" stroke-width="3"/>
  <ellipse cx="604" cy="942" rx="3" ry="4.5" fill="#fff" stroke-width="1.3"/>
  <path d="M590,905 L590,932 M600,905 L600,930" stroke-width="1.5"/>
  <ellipse cx="595" cy="905" rx="6" ry="3" fill="#fff" stroke-width="1.5"/>
  <path d="M582,898 L586,893 L592,896" stroke-width="2.4"/>
  <path fill="#fff" stroke-width="1.6" d="M575,857 L586,860 L602,881 L612,884 L606,890 L604,900 L596,900 L593,885 L579,870 Z"/>
  <path d="M579,862 L583,867" stroke-width="1.2"/>
</g>

<g fill="none" stroke="#111" stroke-width="1.7" stroke-linecap="round" stroke-linejoin="round">
  <!-- muffler back body -->
  <path fill="#fff" stroke-width="1.6" d="M96,998 C100,993 106,992 112,994 L165,1005 C172,1008 175,1015 176,1025 L178,1060 C179,1080 176,1100 175,1120 L174,1147 C173,1158 165,1163 155,1163"/>
  <!-- front plate -->
  <path fill="#fff" stroke-width="2" d="M88,1008 C89,1000 94,997 100,998 L145,1010 C151,1012 154,1018 155,1026 L162,1150 C162,1160 158,1165 150,1164 L100,1146 C90,1142 87,1135 86,1125 Z"/>
  <path d="M94,1012 L99,1005 L146,1016 L150,1024" stroke-width="1.4"/>
  <path d="M152,1024 L159,1150" stroke-width="3"/>
  <path d="M90,1020 L143,1033 L147,1040" stroke-width="1.2"/>
  <path d="M91,1050 L141,1062" stroke-width="1.3"/>
  <circle cx="96" cy="1041" r="3" stroke-width="1.5"/><circle cx="96" cy="1041" r="1.3" fill="#111"/>
  <circle cx="125" cy="1049" r="3" stroke-width="1.5"/><circle cx="125" cy="1049" r="1.3" fill="#111"/>
  <path d="M94,1056 L95,1092 C95,1095 98,1095 98,1092 L97,1056" stroke-width="1.3"/>
  <path d="M106,1060 L107,1096 C107,1099 110,1099 110,1096 L109,1060" stroke-width="1.3"/>
  <path d="M121,1062 L122,1098 C122,1101 125,1101 125,1098 L124,1062" stroke-width="1.3"/>
  <path d="M86,1125 C90,1110 100,1104 112,1104 C118,1104 125,1110 130,1118" stroke-width="1.4"/>
  <path d="M113,1110 L128,1125 M117,1107 L132,1122" stroke-width="1.4"/>
  <ellipse cx="102" cy="1131" rx="5.5" ry="6" fill="#fff" stroke-width="1.8"/><ellipse cx="102" cy="1131" rx="2.5" ry="3" stroke-width="1.5"/>
  <path d="M100,1146 C110,1150 120,1148 130,1150" stroke-width="1.2"/>
  <!-- tab -->
  <path fill="#fff" stroke-width="1.6" d="M163,1115 L183,1110 C186,1111 186,1114 183,1116 L180,1118 C184,1120 185,1123 181,1125 L164,1131"/>
  <!-- bolt 60 -->
  <path d="M59,1080 L104,1058" stroke-width="4"/><path d="M62,1078 L102,1059" stroke="#fff" stroke-width="1.4"/>
  <circle cx="56" cy="1082" r="4" fill="#fff" stroke-width="2"/>
  <path d="M80,1065 L84,1072" stroke-width="3"/>
  <!-- 14 / 57 small nut & washer -->
  <path d="M196,1102 L204,1104" stroke-width="3.5"/>
  <ellipse cx="210" cy="1104" rx="3" ry="4" stroke-width="1.5"/><ellipse cx="210" cy="1104" rx="1.2" ry="2" stroke-width="1"/>
  <!-- gasket 80 (gray) -->
  <g stroke="#9a9a9a" stroke-width="1.3">
    <path d="M95,761 L110,762 L124,768 L123,780 L108,778 L94,771 Z"/>
    <path d="M99,771 L96,802 L127,814 L127,782 L122,777"/>
    <path d="M100,780 L110,786 L108,796 L99,793 M112,785 L122,788 L121,797 L112,795 M101,795 L110,798 L110,808 L100,805 M112,800 L121,803 L121,812"/>
  </g>
</g>

<g fill="none" stroke="#111" stroke-width="1.7" stroke-linecap="round" stroke-linejoin="round">
  <!-- rings 72 -->
  <ellipse cx="389" cy="1071" rx="21" ry="9" stroke-width="3"/>
  <ellipse cx="389" cy="1072" rx="16" ry="6" stroke-width="1.5"/>
  <ellipse cx="389" cy="1078" rx="21" ry="9" stroke-width="1.6"/>
  <!-- piston body -->
  <path fill="#fff" stroke-width="1.8" d="M369,1089 L368,1138 C375,1141 385,1143 392,1140 L393,1131 L411,1130 L412,1089"/>
  <ellipse cx="390.5" cy="1089" rx="21.5" ry="8" fill="#fff" stroke-width="1.8"/>
  <path d="M369,1096 C375,1103 405,1103 412,1096" stroke-width="1.6"/>
  <path d="M369,1100 C375,1107 405,1107 412,1100" stroke-width="2.5"/>
  <path d="M408,1095 L411,1130" stroke-width="3.5"/>
  <ellipse cx="402" cy="1118" rx="6.5" ry="9" stroke-width="1.6"/>
  <ellipse cx="402" cy="1120" rx="4" ry="5" stroke-width="2.8"/>
  <!-- pin 74 -->
  <path d="M420,1127 L449,1137" stroke-width="9.5" stroke-linecap="butt"/>
  <path d="M421,1126.5 L448,1135.5" stroke="#fff" stroke-width="4" stroke-linecap="butt"/>
  <path d="M423,1130 L447,1138" stroke-width="2.2"/>
  <ellipse cx="419" cy="1127" rx="3.2" ry="5" transform="rotate(15 419 1127)" fill="#fff" stroke-width="1.3"/>
  <ellipse cx="450" cy="1137" rx="4" ry="5" transform="rotate(15 450 1137)" fill="#fff" stroke-width="1.8"/>
  <ellipse cx="460" cy="1140" rx="4" ry="5.5" transform="rotate(15 460 1140)" stroke-width="1.3"/>
  <!-- conrod & bearing 67 -->
  <path fill="#fff" stroke-width="1.8" d="M380,1166 C380,1156 386,1151 393,1151 C400,1152 403,1158 401,1168 L399,1175 L397,1230 L386,1230 L384,1175 Z"/>
  <ellipse cx="392" cy="1163" rx="5" ry="8" stroke-width="2.8"/>
  <path d="M389,1178 L391,1228 M394,1178 L394,1228" stroke-width="1.4"/>
  <ellipse cx="413" cy="1174" rx="8.5" ry="9" fill="#fff" stroke-width="1.8"/>
  <path d="M405,1171 C405,1182 412,1186 419,1184" stroke-width="3.5"/>
  <ellipse cx="416" cy="1173" rx="5.5" ry="6.5" fill="#111" stroke="none"/>
  <ellipse cx="416.5" cy="1173" rx="2.5" ry="3" fill="#fff" stroke="none"/>
</g>

<g fill="none" stroke="#111" stroke-width="1.7" stroke-linecap="round" stroke-linejoin="round">
  <!-- seal 62 left -->
  <ellipse cx="210" cy="1195" rx="10" ry="13" transform="rotate(20 210 1195)" stroke-width="4.5"/>
  <ellipse cx="210" cy="1195" rx="4" ry="6.5" transform="rotate(20 210 1195)" stroke-width="1.4"/>
  <!-- crankcase left 63 -->
  <path fill="#fff" stroke-width="1.8" d="M226,1196 C230,1190 236,1188 240,1190 C250,1175 265,1164 281,1160 L324,1167 L326,1187 C333,1200 335,1215 333,1230 C330,1250 320,1265 305,1272 L300,1275 L275,1270 L275,1294 L248,1294 L247,1265 L232,1261 C224,1258 222,1250 222,1240 Z"/>
  <path d="M256,1172 L281,1164 L324,1168" stroke-width="1.4"/>
  <path d="M281,1164 L282,1203 M301,1166 L300,1205" stroke-width="1.4"/>
  <path d="M256,1172 L257,1188 L276,1194" stroke-width="1.4"/>
  <path d="M262,1174 L266,1176" stroke-width="3"/>
  <path d="M229,1205 C232,1215 232,1245 232,1258" stroke-width="1.3"/>
  <path fill="#fff" stroke-width="1.6" d="M246,1192 L277,1206 L272,1217 L241,1203 Z"/>
  <path fill="#fff" stroke-width="1.6" d="M237,1235 L268,1249 L264,1258 L233,1244 Z"/>
  <path d="M237,1205 C240,1203 246,1203 247,1206" stroke-width="3"/>
  <path d="M235,1255 C236,1250 240,1249 242,1252" stroke-width="2.4"/>
  <ellipse cx="300" cy="1229" rx="31" ry="46" transform="rotate(8 300 1229)" fill="#fff" stroke-width="1.8"/>
  <path d="M318,1192 L312,1202 L322,1204 Z" fill="#111" stroke="none"/>
  <ellipse cx="288" cy="1224" rx="13" ry="18" fill="#fff" stroke-width="1.8"/>
  <path d="M283,1207 C297,1208 302,1222 300,1236" stroke-width="4"/>
  <ellipse cx="287" cy="1227" rx="8" ry="12" stroke-width="1.3"/>
  <path d="M301,1187 C310,1188 318,1195 322,1200" stroke-width="4"/>
  <path d="M320,1253 L328,1262 M248,1270 L275,1275" stroke-width="1.4"/>
  <circle cx="282" cy="1272" r="2.6" fill="#111" stroke="none"/>
  <ellipse cx="300" cy="1277" rx="6" ry="3" stroke-width="1.4"/>
  <!-- bearing 64 left -->
  <ellipse cx="331" cy="1238" rx="12" ry="18" transform="rotate(15 331 1238)" fill="#fff" stroke-width="1.8"/>
  <ellipse cx="334" cy="1239" rx="8" ry="12.5" transform="rotate(15 334 1239)" stroke-width="3"/>
  <ellipse cx="335" cy="1240" rx="4" ry="6.5" fill="#fff" stroke-width="1.5"/>
  <!-- crankshaft 65/66 -->
  <path d="M340,1244 L363,1252 M339,1252 L361,1260" stroke-width="1.8"/>
  <path fill="#fff" stroke-width="1.8" d="M359,1232 C366,1218 382,1212 396,1218 L405,1230 L400,1275 C392,1290 375,1292 366,1280 C356,1268 354,1245 359,1232 Z"/>
  <ellipse cx="399" cy="1262" rx="37" ry="42" transform="rotate(10 399 1262)" fill="#fff" stroke-width="1.8"/>
  <path d="M356,1246 C353,1262 358,1282 372,1294 C380,1300 392,1302 400,1302" stroke-width="3.5"/>
  <ellipse cx="401" cy="1245" rx="3.5" ry="5" stroke-width="1.8"/><circle cx="401" cy="1245" r="1.5" fill="#111"/>
  <path fill="#fff" stroke-width="1.8" d="M395,1255 C400,1251 406,1252 410,1257 L436,1273 C441,1276 441,1282 436,1284 L407,1281 C399,1279 393,1272 395,1264 Z"/>
  <path d="M412,1262 L415,1276 M423,1267 L424,1280" stroke-width="1.2"/>
  <ellipse cx="398" cy="1284" rx="4" ry="2" stroke-width="1.4"/>
  <!-- conrod lower part -->
  <path d="M384,1228 L388,1242 M397,1228 L396,1240" stroke-width="1.6"/>
  <!-- bearing 64 right -->
  <ellipse cx="461" cy="1287" rx="14" ry="19" transform="rotate(15 461 1287)" fill="#fff" stroke-width="2.6"/>
  <ellipse cx="464" cy="1288" rx="9" ry="13" transform="rotate(15 464 1288)" stroke-width="3"/>
  <ellipse cx="465" cy="1289" rx="4.5" ry="7" fill="#fff" stroke-width="1.5"/>
</g>

<g fill="none" stroke="#111" stroke-width="1.7" stroke-linecap="round" stroke-linejoin="round">
  <!-- stud 70 -->
  <path d="M550,1132 L550,1170" stroke-width="5"/><path d="M550,1132 L550,1170" stroke="#fff" stroke-width="1.3" stroke-dasharray="1.5,1.5"/>
  
  <!-- gasket 69 -->
  <path d="M516,1167 L586,1153 L589,1158 L518,1172 Z" fill="#111" stroke-width="1.4"/>
  <!-- right crankcase 63 -->
  <path fill="#fff" stroke-width="1.8" d="M496,1196 L504,1196 L507,1186 C510,1182 515,1180 520,1179 L588,1167 C595,1167 599,1172 600,1180 L601,1207 L596,1209 L601,1213 C604,1230 605,1245 605,1260 L605,1335 C604,1360 595,1378 573,1393 C560,1400 548,1401 536,1401 L498,1397 C485,1392 477,1385 476,1377 L475,1335 L482,1310 Z"/>
  <path d="M496,1196 L482,1310" stroke-width="1.5"/>
  <path d="M504,1196 L489,1300 L486,1372" stroke-width="1.5"/>
  <path d="M507,1186 C512,1184 518,1183 522,1192 L522,1200" stroke-width="1.4"/>
  <path d="M518,1195 L595,1175 L598,1185 L520,1206 Z" fill="#fff" stroke-width="1.8"/>
  <path d="M520,1202 L596,1181" stroke-width="1.2"/>
  <path d="M522,1204 L515,1240 L507,1270" stroke-width="1.8"/>
  <path d="M595,1186 L596,1209 L591,1210 L594,1250 L595,1340 C594,1360 588,1372 576,1381 C560,1389 540,1390 508,1389 C495,1387 487,1378 486,1368 L486,1300" stroke-width="1.6"/>
  <path d="M567,1191 L565,1248 L574,1255" stroke-width="1.5"/>
  <path d="M584,1193 L578,1254" stroke-width="1.3"/>
  <path d="M591,1196 L596,1249 L604,1252" stroke-width="1.4"/>
  <path d="M505,1266 L526,1247 L563,1262 L584,1257 L593,1272 L590,1300 L580,1308 L562,1288" fill="#fff" stroke-width="1.6"/>
  <path d="M526,1247 L527,1268 M534,1253 L540,1262 L528,1265" stroke-width="1.3"/>
  <path d="M562,1262 L586,1254 L598,1275" stroke-width="2.6"/>
  <ellipse cx="536" cy="1326" rx="37" ry="49" transform="rotate(-15 536 1326)" fill="#fff" stroke-width="1.5"/>
  <path d="M500,1300 C497,1330 505,1355 520,1365" stroke-width="1.3"/>
  <ellipse cx="522" cy="1320" rx="17" ry="22" transform="rotate(-25 522 1320)" fill="#fff" stroke-width="2"/>
  <ellipse cx="524" cy="1318" rx="10" ry="15" transform="rotate(-25 524 1318)" stroke-width="1.5"/>
  <path d="M508,1305 C512,1296 520,1295 528,1300" stroke-width="3"/>
  <path d="M532,1290 L545,1280 M540,1335 L555,1320" stroke-width="1.8"/>
  <ellipse cx="552" cy="1330" rx="10.5" ry="13" transform="rotate(-30 552 1330)" fill="#fff" stroke-width="4.5"/>
  <ellipse cx="553" cy="1330" rx="4" ry="7" transform="rotate(-30 553 1330)" fill="#fff" stroke-width="1.3"/>
  <path d="M562,1287 L594,1293 L578,1307 Z" stroke-width="1.3"/>
  <ellipse cx="585" cy="1316" rx="4.5" ry="6" stroke-width="1.4"/>
  <path d="M519,1366 L552,1382" stroke-width="3.6"/><circle cx="553" cy="1381" r="3" fill="#111" stroke="none"/>
  <path d="M507,1372 L511,1372 L511,1389 L507,1389 Z" stroke-width="1.3"/>
  <path d="M578,1364 L588,1366 L586,1377 L576,1375 Z" stroke-width="1.4"/>
  <circle cx="583" cy="1355" r="1.3" fill="#111" stroke="none"/>
  <path d="M490,1384 C500,1392 520,1396 540,1394" stroke-width="1.2" stroke-dasharray="4,2"/>
  <path d="M545,1205 L545,1236" stroke-width="4.5"/><path d="M545,1222 L545,1236" stroke-width="5.5"/>
  <!-- bracket 71 -->
  <path fill="#fff" stroke-width="1.8" d="M674,1212 L752,1194 C757,1193 761,1196 762,1201 L760,1207 L691,1222 C684,1223 676,1220 674,1212 Z"/>
  <circle cx="693.5" cy="1211.5" r="1.6" fill="#111" stroke="none"/><circle cx="750" cy="1198" r="1.6" fill="#111" stroke="none"/>
  <path fill="#fff" stroke-width="1.6" d="M712,1219 L708,1254 L732,1268 L734,1216 Z"/>
  <path fill="#fff" stroke-width="1.6" d="M737,1215 L757,1207 C762,1230 763,1250 765,1278 L761,1289 L733,1275 L735,1258 Z"/>
  <path d="M712,1219 L720,1214 L716,1228 Z M742,1213 L755,1208 L742,1228 Z" fill="#111" stroke-width="1"/>
  <path d="M731,1270 L729,1277 L734,1277" stroke-width="1.4"/>
</g>

<g fill="none" stroke="#1a1a1a" stroke-width="1.7" stroke-linejoin="miter">
<path d="M101.5,306 L119,294 M104,306 L132,307"/>
<path d="M152.4,358 L196,358"/>
<path d="M322.6,258 L275,258 L275,336"/>
<path d="M322.6,280 L284,280 L284,336"/>
<path d="M322.6,302 L294,302 L294,335"/>
<path d="M392.6,326 L351,326 L351,355"/>
<path d="M390.6,350 L375,350 L375,378"/>
<path d="M63.5,443 L104,443"/>
<path d="M183.0,560 L211,560 L211,490"/>
<path d="M184.4,585 L228,585 L228,495"/>
<path d="M229.2,630 L257,630 L257,557"/>
<path d="M229.2,654 L317,654 L317,607"/>
<path d="M229.2,684.6 L350,684.6 L350,580"/>
<path d="M229.2,711.8 L371,711.8 L371,535"/>
<path d="M443.6,417 L395,417 L395,486"/>
<path d="M443.6,440 L405,440 L405,495"/>
<path d="M443.6,461 L419,461 L419,487"/>
<path d="M443.6,486 L433,486 L433,505"/>
<path d="M544.0,473 L580,473"/>
<path d="M544.4,504 L614,504 L614,489"/>
<path d="M544.4,526 L640,526 L640,502"/>
<path d="M544.4,545 L667,545 L667,506"/>
<path d="M703,338 L757,338"/>
<path d="M667,377 L725,377"/>
<path d="M674,408 L725,408"/>
<path d="M678,419 C684,424 688,429 694,429"/>
<path d="M642.0,448 L668,448"/>
<path d="M733.2,455 L722,455"/>
<path d="M772,528 L806,528"/>
<path d="M767,556 L805,556"/>
<path d="M739,584 L800,584"/>
<path d="M748,655 L803,655"/>
<path d="M740,682 L802,682"/>
<path d="M735,720 L735,744.7 L746,744.7"/>
<path d="M526,731 L553,709 M526,731 L571,717"/>
<path d="M424,552 L424,565"/>
<path d="M409,593 L409,563"/>
<path d="M432,614 L432,575"/>
<path d="M475,613 L475,570"/>
<path d="M453,633 L453,575"/>
<path d="M494,651 L494,585"/>
<path d="M523,629 L523,600"/>
<path d="M541,583 L541,597"/>
<path d="M555,673 L555,630"/>
<path d="M605,695 L605,650"/>
<path d="M272.4,833 L347,833 L347,847"/>
<path d="M272.4,861 L345,861"/>
<path d="M272.4,895 L329.5,895"/>
<path d="M272.4,923 L340,923 L384,928"/>
<path d="M272.4,945 L326,945 L352,947"/>
<path d="M228.4,971.5 L291,971.5"/>
<path d="M228.4,992.5 L266.5,992.5 L277,1005"/>
<path d="M228.4,1018.8 L291,1018.8"/>
<path d="M389,828 L432,828"/>
<path d="M412,848 L431,848"/>
<path d="M495.2,898 L464.4,898 L464.4,919"/>
<path d="M520.6,930 L505.6,930 L505.6,951"/>
<path d="M548.75,962 L548.75,1006.9 L573,1006.9"/>
<path d="M510.3,999.4 L510.3,1027.5 L567,1027.5"/>
<path d="M635,947 L697,947"/>
<path d="M42,1017.7 L85,1017.7" stroke="#555"/>
<path d="M41.3,1049.4 L74.8,1049.4 L81,1064" stroke="#555"/>
<path d="M34,1109.5 L69,1109.5 L69,1082" stroke="#555"/>
<path d="M225,1069 L198,1069 L198,1101"/>
<path d="M225,1090 L209.6,1090 L209.6,1103"/>
<path d="M412,1066.7 L465,1066.7 M412,1078 L449,1067"/>
<path d="M413,1095.5 L456.5,1082.5 L484,1082.5"/>
<path d="M422,1117.7 L425,1107.7 L455,1098 L462,1098"/>
<path d="M445,1129 L445,1122.8 L462,1122.8"/>
<path d="M459,1143.6 L460.8,1151.5 L463,1151.5"/>
<path d="M111,741 L111,762" stroke="#999"/>
<path d="M139,1200.5 L198,1200.5"/>
<path d="M139,1232 L225,1232"/>
<path d="M272.0,1327.5 L332,1327.5 L332,1256"/>
<path d="M273.8,1355.6 L387.2,1355.6 L387.2,1295.6"/>
<path d="M273.8,1386.6 L399.4,1386.6 L399.4,1288"/>
<path d="M410.5,1182.4 L410.5,1198 L433,1198"/>
<path d="M465,1238 L465,1275"/>
<path d="M555.5,1136.6 L614,1136.6"/>
<path d="M588.8,1159.4 L612,1159.4"/>
<path d="M601,1240.8 L640,1240.8"/>
<path d="M555.5,1339.6 L642,1339.6"/>
<path d="M565.6,1386 L588,1405 L638,1405"/>
<path d="M715.6,1255 L715.6,1316 L745,1316"/>
</g>
<!-- bracket 48 -->
<g fill="#fff" stroke="#111" stroke-width="1.8" stroke-linejoin="miter">
<path d="M731,189 L764,185 L764,339 L783,347 L757,340 L757,196 Z"/>
<path d="M783,347 L764,353 L764,512 L733,506 L757,502 L757,353 Z"/>
</g>
<!-- bracket 75 -->
<g fill="#fff" stroke="#111" stroke-width="1.7" stroke-linejoin="miter">
<path d="M469.4,1046.6 L493.9,1043 L493.9,1095 L506.8,1098.3 L486.7,1094 L486.7,1050 Z"/>
<path d="M506.8,1098.3 L493.9,1102 L493.9,1164.5 L472.3,1161.6 L486.7,1157 L486.7,1102 Z"/>
</g>
<!-- dash-dot group 40 -->
<path fill="none" stroke="#1a1a1a" stroke-width="1.8" stroke-dasharray="14,4,3,4" d="M420,526 L553,560 L704,550 L743,512 L785,495 L839,495 L839,710 L735,710 L621,735 L571,717 L553,709 L410,653 L384,594 Z"/>
<!-- gray bottom line -->
<rect x="0" y="1425" width="853" height="3" fill="#cecece"/><rect x="0" y="1428" width="853" height="3" fill="#e8e8e8"/>
<circle cx="656" cy="1431" r="1.2" fill="#444"/>

<g font-weight="bold" fill="#111" stroke="#111" stroke-width="0.35" text-anchor="middle">
<text x="96.0" y="312.8" font-size="16" textLength="9.9" lengthAdjust="spacingAndGlyphs">1</text>
<text x="147.0" y="363.8" font-size="16" textLength="9.9" lengthAdjust="spacingAndGlyphs">2</text>
<text x="328.0" y="264.8" font-size="16" textLength="9.9" lengthAdjust="spacingAndGlyphs">3</text>
<text x="328.0" y="286.8" font-size="16" textLength="9.9" lengthAdjust="spacingAndGlyphs">4</text>
<text x="328.0" y="308.8" font-size="16" textLength="9.9" lengthAdjust="spacingAndGlyphs">5</text>
<text x="398.0" y="332.8" font-size="16" textLength="9.9" lengthAdjust="spacingAndGlyphs">6</text>
<text x="396.0" y="357.8" font-size="16" textLength="9.9" lengthAdjust="spacingAndGlyphs">7</text>
<text x="58.0" y="448.8" font-size="16" textLength="9.9" lengthAdjust="spacingAndGlyphs">8</text>
<text x="177.6" y="566.2" font-size="16" textLength="9.9" lengthAdjust="spacingAndGlyphs">9</text>
<text x="174.0" y="590.8" font-size="16" textLength="19.8" lengthAdjust="spacingAndGlyphs">10</text>
<text x="218.8" y="636.2" font-size="16" textLength="19.8" lengthAdjust="spacingAndGlyphs">11</text>
<text x="218.8" y="659.8" font-size="16" textLength="19.8" lengthAdjust="spacingAndGlyphs">12</text>
<text x="218.8" y="690.4" font-size="16" textLength="19.8" lengthAdjust="spacingAndGlyphs">13</text>
<text x="218.8" y="717.6" font-size="16" textLength="19.8" lengthAdjust="spacingAndGlyphs">14</text>
<text x="409.0" y="607.8" font-size="16" textLength="19.8" lengthAdjust="spacingAndGlyphs">15</text>
<text x="432.0" y="628.8" font-size="16" textLength="19.8" lengthAdjust="spacingAndGlyphs">17</text>
<text x="475.0" y="627.8" font-size="16" textLength="19.8" lengthAdjust="spacingAndGlyphs">18</text>
<text x="453.0" y="647.8" font-size="16" textLength="19.8" lengthAdjust="spacingAndGlyphs">19</text>
<text x="494.0" y="665.8" font-size="16" textLength="19.8" lengthAdjust="spacingAndGlyphs">20</text>
<text x="523.0" y="643.8" font-size="16" textLength="19.8" lengthAdjust="spacingAndGlyphs">21</text>
<text x="541.0" y="579.8" font-size="16" textLength="19.8" lengthAdjust="spacingAndGlyphs">22</text>
<text x="555.0" y="687.8" font-size="16" textLength="19.8" lengthAdjust="spacingAndGlyphs">23</text>
<text x="605.0" y="709.8" font-size="16" textLength="19.8" lengthAdjust="spacingAndGlyphs">24</text>
<text x="822.0" y="533.6" font-size="16" textLength="19.8" lengthAdjust="spacingAndGlyphs">25</text>
<text x="819.8" y="561.6" font-size="16" textLength="19.8" lengthAdjust="spacingAndGlyphs">26</text>
<text x="817.0" y="589.6" font-size="16" textLength="19.8" lengthAdjust="spacingAndGlyphs">27</text>
<text x="815.0" y="661.2" font-size="16" textLength="19.8" lengthAdjust="spacingAndGlyphs">28</text>
<text x="813.7" y="687.8" font-size="16" textLength="19.8" lengthAdjust="spacingAndGlyphs">29</text>
<text x="756.8" y="750.5" font-size="16" textLength="19.8" lengthAdjust="spacingAndGlyphs">30</text>
<text x="454.0" y="423.8" font-size="16" textLength="19.8" lengthAdjust="spacingAndGlyphs">31</text>
<text x="454.0" y="446.8" font-size="16" textLength="19.8" lengthAdjust="spacingAndGlyphs">32</text>
<text x="454.0" y="466.8" font-size="16" textLength="19.8" lengthAdjust="spacingAndGlyphs">33</text>
<text x="454.0" y="491.8" font-size="16" textLength="19.8" lengthAdjust="spacingAndGlyphs">34</text>
<text x="533.6" y="479.2" font-size="16" textLength="19.8" lengthAdjust="spacingAndGlyphs">35</text>
<text x="534.0" y="509.8" font-size="16" textLength="19.8" lengthAdjust="spacingAndGlyphs">36</text>
<text x="534.0" y="531.8" font-size="16" textLength="19.8" lengthAdjust="spacingAndGlyphs">37</text>
<text x="534.0" y="550.8" font-size="16" textLength="19.8" lengthAdjust="spacingAndGlyphs">38</text>
<text x="743.6" y="460.8" font-size="16" textLength="19.8" lengthAdjust="spacingAndGlyphs">39</text>
<text x="631.6" y="453.8" font-size="16" textLength="19.8" lengthAdjust="spacingAndGlyphs">41</text>
<text x="707.8" y="434.8" font-size="16" textLength="19.8" lengthAdjust="spacingAndGlyphs">42</text>
<text x="738.0" y="413.8" font-size="16" textLength="19.8" lengthAdjust="spacingAndGlyphs">43</text>
<text x="738.0" y="382.8" font-size="16" textLength="19.8" lengthAdjust="spacingAndGlyphs">44</text>
<text x="424.0" y="549.8" font-size="16" textLength="9.9" lengthAdjust="spacingAndGlyphs">4</text>
<text x="262.0" y="838.8" font-size="16" textLength="19.8" lengthAdjust="spacingAndGlyphs">49</text>
<text x="262.0" y="866.8" font-size="16" textLength="19.8" lengthAdjust="spacingAndGlyphs">50</text>
<text x="262.0" y="900.3" font-size="16" textLength="19.8" lengthAdjust="spacingAndGlyphs">51</text>
<text x="262.0" y="928.8" font-size="16" textLength="19.8" lengthAdjust="spacingAndGlyphs">52</text>
<text x="262.0" y="950.8" font-size="16" textLength="19.8" lengthAdjust="spacingAndGlyphs">61</text>
<text x="218.0" y="977.3" font-size="16" textLength="19.8" lengthAdjust="spacingAndGlyphs">53</text>
<text x="218.0" y="998.3" font-size="16" textLength="19.8" lengthAdjust="spacingAndGlyphs">54</text>
<text x="218.0" y="1024.6" font-size="16" textLength="19.8" lengthAdjust="spacingAndGlyphs">55</text>
<text x="442.4" y="833.8" font-size="16" textLength="19.8" lengthAdjust="spacingAndGlyphs">56</text>
<text x="441.5" y="853.8" font-size="16" textLength="19.8" lengthAdjust="spacingAndGlyphs">79</text>
<text x="505.6" y="903.8" font-size="16" textLength="19.8" lengthAdjust="spacingAndGlyphs">54</text>
<text x="531.0" y="935.8" font-size="16" textLength="19.8" lengthAdjust="spacingAndGlyphs">76</text>
<text x="580.6" y="1012.7" font-size="16" textLength="9.9" lengthAdjust="spacingAndGlyphs">7</text>
<text x="584.4" y="1033.3" font-size="16" textLength="19.8" lengthAdjust="spacingAndGlyphs">77</text>
<text x="709.0" y="952.7" font-size="16" textLength="19.8" lengthAdjust="spacingAndGlyphs">78</text>
<text x="32.5" y="1023.5" font-size="16" textLength="19.8" lengthAdjust="spacingAndGlyphs">58</text>
<text x="30.9" y="1055.2" font-size="16" textLength="19.8" lengthAdjust="spacingAndGlyphs">59</text>
<text x="25.2" y="1115.3" font-size="16" textLength="19.8" lengthAdjust="spacingAndGlyphs">60</text>
<text x="234.0" y="1074.7" font-size="16" textLength="19.8" lengthAdjust="spacingAndGlyphs">14</text>
<text x="234.8" y="1095.8" font-size="16" textLength="19.8" lengthAdjust="spacingAndGlyphs">57</text>
<text x="475.2" y="1072.5" font-size="16" textLength="19.8" lengthAdjust="spacingAndGlyphs">72</text>
<text x="473.7" y="1104.1" font-size="16" textLength="19.8" lengthAdjust="spacingAndGlyphs">73</text>
<text x="472.3" y="1128.6" font-size="16" textLength="19.8" lengthAdjust="spacingAndGlyphs">74</text>
<text x="475.2" y="1157.3" font-size="16" textLength="19.8" lengthAdjust="spacingAndGlyphs">73</text>
<text x="518.3" y="1104.8" font-size="16" textLength="19.8" lengthAdjust="spacingAndGlyphs">75</text>
<text x="111.0" y="738.1" font-size="16" textLength="19.8" lengthAdjust="spacingAndGlyphs">80</text>
<text x="130.0" y="1206.3" font-size="16" textLength="19.8" lengthAdjust="spacingAndGlyphs">62</text>
<text x="129.4" y="1237.8" font-size="16" textLength="19.8" lengthAdjust="spacingAndGlyphs">63</text>
<text x="261.6" y="1333.3" font-size="16" textLength="19.8" lengthAdjust="spacingAndGlyphs">64</text>
<text x="263.4" y="1361.4" font-size="16" textLength="19.8" lengthAdjust="spacingAndGlyphs">65</text>
<text x="263.4" y="1392.4" font-size="16" textLength="19.8" lengthAdjust="spacingAndGlyphs">66</text>
<text x="446.3" y="1203.0" font-size="16" textLength="19.8" lengthAdjust="spacingAndGlyphs">67</text>
<text x="462.2" y="1234.8" font-size="16" textLength="19.8" lengthAdjust="spacingAndGlyphs">64</text>
<text x="627.3" y="1142.4" font-size="16" textLength="19.8" lengthAdjust="spacingAndGlyphs">70</text>
<text x="626.4" y="1165.2" font-size="16" textLength="19.8" lengthAdjust="spacingAndGlyphs">69</text>
<text x="654.4" y="1246.6" font-size="16" textLength="19.8" lengthAdjust="spacingAndGlyphs">63</text>
<text x="655.3" y="1345.4" font-size="16" textLength="19.8" lengthAdjust="spacingAndGlyphs">62</text>
<text x="651.9" y="1410.8" font-size="16" textLength="19.8" lengthAdjust="spacingAndGlyphs">68</text>
<text x="758.8" y="1321.8" font-size="16" textLength="19.8" lengthAdjust="spacingAndGlyphs">71</text>
<text x="75.0" y="1308.8" font-size="16" textLength="19.8" lengthAdjust="spacingAndGlyphs">16</text>
<text x="519.0" y="749.6" font-size="18.5" textLength="23.2" lengthAdjust="spacingAndGlyphs">40</text>
<text x="800.5" y="353.2" font-size="18.5" textLength="23.2" lengthAdjust="spacingAndGlyphs">48</text>
<path d="M195,1024 L201.5,1013.5 L208,1024 Z M594,1033 L600.5,1022.5 L607,1033 Z M53,1308 L57.5,1299.5 L62,1308 Z" fill="#111"/>
</g>
</svg></body></html>
